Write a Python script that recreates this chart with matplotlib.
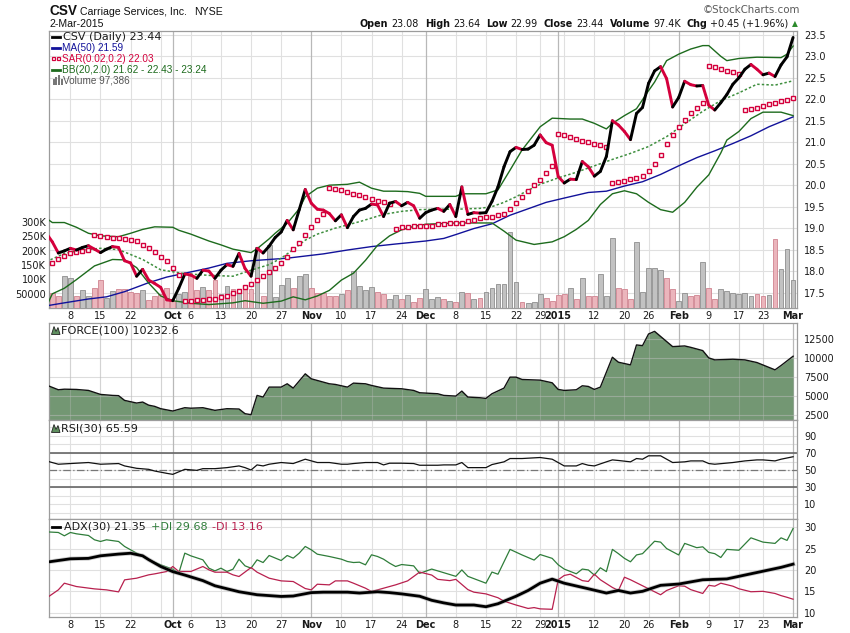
import numpy as np
import pandas as pd
import matplotlib
matplotlib.use("Agg")
import matplotlib.pyplot as plt
from matplotlib.collections import LineCollection
from matplotlib.lines import Line2D
from matplotlib.patches import Rectangle, Polygon

# ---------------------------------------------------------------- data
holidays = ["2014-11-27", "2014-12-25", "2015-01-01", "2015-01-19", "2015-02-16"]
trading_days = pd.bdate_range("2014-09-02", "2015-03-02")
trading_days = trading_days[~trading_days.isin(pd.to_datetime(holidays))]
day = np.arange(len(trading_days))

close = [18.88, 18.68, 18.42, 18.47, 18.53, 18.49, 18.55, 18.59, 18.51, 18.43,
         18.51, 18.57, 18.55, 18.24, 18.19, 17.88, 18.04, 17.79, 17.71, 17.62,
         17.33, 17.31, 17.60, 17.93, 17.91, 17.83, 18.02, 18.00, 17.83, 18.02,
         18.15, 18.11, 18.41, 18.06, 17.88, 18.53, 18.42, 18.58, 18.78, 18.91,
         19.18, 18.96, 19.43, 19.90, 19.58, 19.44, 19.42, 19.34, 19.17, 19.31,
         19.01, 19.27, 19.42, 19.46, 19.56, 19.54, 19.27, 19.58, 19.62, 19.52,
         19.60, 19.52, 19.23, 19.36, 19.42, 19.46, 19.39, 19.55, 19.27, 19.96,
         19.32, 19.36, 19.35, 19.36, 19.62, 19.96, 20.43, 20.78, 20.88, 20.83,
         20.84, 20.93, 21.17, 20.99, 20.93, 20.20, 20.05, 20.14, 20.13, 20.55,
         20.43, 20.21, 20.32, 20.67, 21.50, 21.40, 21.25, 21.06, 21.67, 21.81,
         22.37, 22.66, 22.76, 22.48, 21.82, 22.04, 22.42, 22.34, 22.31, 22.32,
         21.86, 21.75, 21.92, 22.11, 22.35, 22.50, 22.70, 22.81, 22.70, 22.57,
         22.61, 22.53, 22.80, 22.99, 23.44]

sar = [np.nan, 18.18, 18.27, 18.35, 18.41, 18.45, 18.47, 18.49, 18.84, 18.82,
       18.80, 18.78, 18.77, 18.75, 18.72, 18.70, 18.61, 18.53, 18.44, 18.33,
       18.23, 18.06, 17.90, 17.30, 17.30, 17.33, 17.33, 17.34, 17.36, 17.40,
       17.43, 17.50, 17.54, 17.64, 17.71, 17.79, 17.88, 17.97, 18.06, 18.18,
       18.32, 18.51, 18.66, 18.84, 19.02, 19.20, 19.34, 19.93, 19.92, 19.88,
       19.85, 19.80, 19.77, 19.72, 19.67, 19.62, 19.60, 19.56, 18.99, 19.02,
       19.03, 19.05, 19.05, 19.06, 19.06, 19.09, 19.10, 19.11, 19.13, 19.13,
       19.17, 19.19, 19.23, 19.25, 19.27, 19.30, 19.34, 19.44, 19.58, 19.73,
       19.87, 20.00, 20.11, 20.29, 20.44, 21.19, 21.16, 21.12, 21.07, 21.03,
       21.00, 20.97, 20.93, 20.88, 20.05, 20.08, 20.10, 20.14, 20.16, 20.21,
       20.33, 20.49, 20.70, 20.96, 21.16, 21.35, 21.51, 21.67, 21.79, 21.91,
       22.77, 22.75, 22.70, 22.65, 22.63, 22.58, 21.75, 21.78, 21.80, 21.85,
       21.89, 21.91, 21.96, 21.98, 22.03]

volume = [60000, 53500, 42000, 112000, 104000, 43000, 63000, 43000, 69000, 99000,
          35000, 61000, 66000, 66000, 55000, 51000, 63000, 28000, 42000, 49000,
          69000, 26000, 49000, 55000, 112000, 63000, 72000, 63000, 99000, 49000,
          77000, 65000, 68000, 69000, 68000, 212000, 42000, 220000, 38000, 80000,
          104000, 69000, 112000, 118000, 69000, 51000, 51000, 42000, 43000, 49000,
          63000, 130000, 77000, 63000, 72000, 55000, 49000, 31000, 46000, 30000,
          46000, 20000, 35000, 65000, 30000, 37000, 30000, 26000, 22000, 57000,
          51000, 30000, 34000, 57000, 69000, 83000, 83000, 267000, 90000, 22000,
          19000, 22000, 48000, 34000, 26000, 44000, 48000, 69000, 30000, 104000,
          42000, 42000, 118000, 42000, 244000, 69000, 65000, 30000, 230000, 57000,
          139000, 139000, 133000, 104000, 65000, 26000, 54000, 42000, 44000, 160000,
          69000, 30000, 65000, 60000, 51000, 49000, 54000, 42000, 48000, 42000,
          44000, 240000, 135000, 205000, 97386]

ma_day = [0, 3, 7, 10, 13, 17, 20, 23, 27, 30, 34, 40, 46, 50, 54, 58, 63, 66, 68, 71,
          74, 77, 80, 83, 86, 90, 93, 96, 99, 102, 105, 108, 111, 114, 117, 120, 124]
ma50 = [17.19, 17.26, 17.35, 17.40, 17.52, 17.73, 17.86, 17.95, 18.07, 18.18,
        18.24, 18.30, 18.40, 18.49, 18.57, 18.63, 18.70, 18.76, 18.85, 18.99,
        19.10, 19.30, 19.45, 19.60, 19.70, 19.83, 19.86, 19.98, 20.08, 20.25,
        20.45, 20.64, 20.80, 20.97, 21.15, 21.36, 21.59]

bb_up_day = [0, 1, 3, 5, 7, 9, 12, 14, 16, 18, 21, 22, 24, 27, 29, 31, 34, 35, 37, 38,
             40, 42, 43, 45, 47, 50, 52, 54, 56, 58, 60, 62, 63, 68, 69, 73, 75, 77, 79, 82,
             84, 87, 89, 91, 93, 94, 96, 98, 100, 101, 103, 105, 107, 109, 110, 112, 113,
             115, 118, 122, 123, 124]
bb_up = [19.23, 19.13, 19.13, 19.02, 18.88, 18.82, 18.80, 18.88, 18.97, 19.03,
         19.02, 18.95, 18.86, 18.70, 18.61, 18.51, 18.43, 18.52, 18.75, 18.88,
         19.11, 19.45, 19.73, 19.93, 20.00, 20.02, 20.07, 19.93, 19.86, 19.86,
         19.85, 19.81, 19.74, 19.74, 19.80, 19.80, 19.89, 20.35, 20.82, 21.36,
         21.56, 21.54, 21.54, 21.44, 21.31, 21.44, 21.62, 21.78, 22.20, 22.40,
         22.90, 23.05, 23.17, 23.25, 23.25, 23.00, 22.90, 22.95, 22.98, 22.97,
         23.05, 23.24]

bb_mid_day = [0, 3, 6, 9, 12, 16, 19, 23, 27, 31, 34, 37, 39, 41, 43, 45, 48, 52, 56, 59,
              62, 65, 68, 72, 74, 76, 78, 80, 82, 85, 88, 91, 94, 97, 100, 103, 106, 109,
              112, 115, 118, 121, 124]
bb_mid = [18.22, 18.41, 18.49, 18.53, 18.50, 18.27, 18.03, 17.94, 17.90, 17.88,
          18.02, 18.15, 18.30, 18.50, 18.72, 18.86, 19.00, 19.15, 19.32, 19.39,
          19.43, 19.44, 19.44, 19.46, 19.50, 19.60, 19.73, 19.88, 20.02, 20.17,
          20.30, 20.45, 20.60, 20.74, 20.90, 21.13, 21.43, 21.72, 21.97, 22.15,
          22.35, 22.33, 22.43]

bb_lo_day = [0, 1, 3, 5, 8, 11, 13, 15, 17, 19, 21, 24, 27, 31, 33, 36, 39, 41, 43, 45,
             47, 49, 51, 53, 55, 57, 59, 61, 63, 68, 74, 76, 78, 81, 84, 86, 88, 90, 92, 94,
             96, 98, 100, 102, 104, 106, 108, 110, 112, 113, 115, 117, 119, 122, 124]
bb_lo = [17.17, 17.47, 17.60, 17.80, 18.12, 18.27, 18.26, 18.08, 17.72, 17.42,
         17.31, 17.25, 17.22, 17.26, 17.31, 17.25, 17.30, 17.40, 17.33, 17.42,
         17.55, 17.79, 17.95, 18.25, 18.60, 18.82, 18.96, 19.04, 19.09, 19.12,
         19.12, 18.93, 18.72, 18.62, 18.68, 18.80, 18.97, 19.18, 19.55, 19.80,
         19.87, 19.80, 19.60, 19.43, 19.37, 19.60, 19.95, 20.24, 20.75, 21.05,
         21.25, 21.55, 21.70, 21.70, 21.62]

force_day = [0, 2, 3, 5, 6, 7, 9, 11, 12, 13, 15, 16, 17, 18, 19, 21, 23, 24, 26, 28,
             30, 32, 33, 34, 35, 36, 37, 39, 40, 41, 43, 44, 45, 47, 48, 50, 51, 53, 54, 56,
             59, 61, 62, 65, 66, 68, 69, 70, 72, 73, 74, 76, 77, 78, 79, 82, 84, 85, 86, 88,
             89, 90, 91, 92, 94, 95, 97, 98, 99, 100, 101, 104, 106, 107, 109, 110, 111, 114,
             116, 118, 121, 122, 124]
force = [6450, 5824, 5900, 5867, 5800, 5736, 5213, 5082, 5050, 4427,
         4078, 4209, 3800, 3641, 3336, 3030, 3467, 3400, 3467, 3118,
         3336, 3292, 2681, 2550, 5082, 4864, 6173, 6173, 6610, 6042,
         7918, 7264, 7046, 6610, 6523, 6173, 6697, 6610, 6392, 6042,
         5955, 5736, 5431, 5300, 5082, 4995, 5649, 4864, 4776, 4689,
         5300, 6042, 7482, 7482, 7177, 7089, 6740, 5867, 5736, 5824,
         6348, 6261, 5867, 6173, 10100, 9445, 9096, 11714, 11627, 13154,
         13503, 11496, 11583, 11400, 10972, 10012, 9751, 9838, 9751, 9402,
         8442, 9009, 10233]

rsi_day = [0, 2, 4, 7, 9, 12, 13, 15, 17, 18, 20, 21, 23, 25, 26, 28, 30, 32, 33, 34,
           35, 36, 37, 39, 41, 43, 45, 47, 49, 50, 51, 53, 55, 56, 57, 59, 61, 62, 65, 66,
           68, 69, 70, 72, 73, 74, 76, 77, 79, 81, 82, 84, 86, 88, 89, 90, 91, 93, 94, 95,
           97, 98, 99, 100, 102, 104, 106, 107, 109, 110, 111, 114, 116, 118, 119, 121, 122, 124]
rsi = [60.7, 56.8, 57.6, 58.8, 56.8, 57.6, 54.8, 52.0, 50.8, 48.8,
       46.1, 44.9, 50.8, 49.6, 51.6, 51.6, 52.8, 54.8, 52.8, 50.0,
       56.0, 54.8, 56.8, 58.8, 57.6, 62.7, 58.8, 58.8, 56.8, 56.8,
       57.6, 58.8, 58.8, 56.0, 58.0, 58.0, 57.6, 55.6, 55.6, 56.0,
       56.0, 58.8, 52.8, 52.8, 52.8, 56.4, 59.6, 63.5, 63.5, 64.3,
       64.7, 62.7, 54.8, 54.8, 57.6, 55.6, 54.8, 59.6, 61.9, 61.2,
       59.6, 63.5, 62.7, 66.7, 66.7, 58.8, 59.6, 60.7, 60.7, 57.6,
       56.8, 58.8, 60.7, 61.9, 61.9, 60.7, 62.7, 65.6]

adx_day = [0, 4, 7, 9, 12, 14, 16, 17, 19, 21, 23, 26, 28, 30, 32, 35, 37, 39, 41, 44,
           46, 50, 52, 55, 57, 59, 62, 64, 66, 68, 71, 73, 75, 78, 80, 82, 84, 86, 90, 93,
           95, 97, 99, 102, 105, 109, 113, 116, 120, 122, 124]
adx = [21.8, 22.6, 22.7, 23.3, 23.7, 23.9, 23.3, 22.4, 20.8, 19.6,
       18.8, 17.5, 16.3, 15.6, 14.9, 14.2, 14.0, 13.8, 13.9, 14.7,
       14.8, 14.8, 14.6, 14.9, 14.7, 14.4, 13.85, 12.9, 12.3, 11.8,
       11.8, 11.4, 12.1, 13.85, 15.2, 16.9, 17.85, 16.9, 15.6, 14.6,
       15.2, 14.6, 15.0, 16.4, 16.7, 17.7, 17.9, 18.8, 20.0, 20.6,
       21.35]

pdi_day = [0, 2, 3, 4, 5, 7, 8, 9, 10, 12, 13, 14, 16, 17, 19, 21, 22, 23, 24, 26,
           27, 28, 29, 30, 31, 32, 33, 34, 35, 36, 37, 39, 40, 41, 42, 43, 44, 45, 47, 49,
           50, 51, 52, 53, 54, 55, 56, 57, 58, 59, 61, 62, 64, 68, 69, 70, 73, 74, 75, 77,
           79, 81, 82, 84, 85, 86, 88, 89, 90, 91, 92, 93, 94, 95, 96, 97, 98, 99, 101, 102,
           103, 105, 106, 108, 109, 110, 111, 112, 113, 115, 117, 119, 121, 122, 123, 124]
plus_di = [28.9, 28.75, 27.97, 28.75, 28.44, 28.05, 27.04, 26.65, 27.04, 26.65,
           25.48, 24.7, 23.14, 22.36, 21.19, 20.17, 19.24, 23.92, 23.29, 22.36,
           20.41, 19.78, 20.41, 19.63, 20.17, 22.51, 20.95, 20.41, 22.36, 21.73,
           23.37, 22.2, 23.37, 22.75, 23.92, 25.48, 24.7, 23.68, 23.14, 22.51,
           21.97, 21.73, 21.81, 21.19, 23.53, 23.14, 22.51, 21.58, 20.8, 21.26,
           20.95, 19.2, 20.2, 18.5, 20.0, 18.5, 16.9, 19.5, 19.0, 24.8,
           23.5, 22.3, 23.6, 22.7, 21.2, 20.2, 19.1, 20.2, 20.0, 18.8,
           20.5, 19.6, 24.8, 23.8, 22.7, 21.9, 23.5, 23.8, 26.7, 26.5,
           25.0, 23.5, 26.2, 25.2, 25.4, 24.1, 23.8, 22.9, 24.8, 24.6,
           27.5, 26.5, 26.2, 27.5, 26.9, 29.68]

mdi_day = [0, 2, 3, 5, 8, 10, 12, 13, 15, 17, 18, 20, 21, 22, 24, 26, 27, 28, 30, 31,
           32, 34, 35, 37, 39, 41, 43, 44, 45, 47, 48, 50, 51, 53, 54, 57, 58, 60, 62, 64,
           65, 67, 68, 70, 71, 73, 75, 76, 78, 80, 81, 82, 84, 85, 86, 87, 89, 90, 91, 92,
           94, 95, 96, 97, 99, 101, 102, 103, 105, 106, 107, 109, 110, 111, 112, 114, 115,
           117, 119, 121, 122, 123, 124]
minus_di = [13.39, 15.34, 16.9, 16.12, 15.57, 15.34, 14.87, 17.68, 18.07, 18.85,
            19.08, 19.63, 20.8, 19.63, 19.63, 20.8, 20.02, 19.47, 19.47, 18.85,
            18.46, 20.56, 19.47, 18.07, 17.44, 17.29, 15.65, 15.34, 16.66, 16.51,
            17.44, 17.44, 16.9, 15.73, 14.95, 16.12, 16.51, 17.44, 19.5, 18.8,
            17.8, 17.5, 17.8, 15.4, 14.8, 14.4, 13.5, 12.7, 11.8, 11.0,
            11.2, 10.9, 10.8, 17.7, 18.7, 19.0, 17.5, 17.3, 19.0, 17.7,
            15.9, 15.2, 18.3, 17.7, 16.3, 14.9, 14.2, 15.2, 16.3, 16.2,
            15.4, 14.5, 16.4, 16.2, 16.9, 16.2, 15.6, 14.9, 15.0, 14.5,
            14.0, 13.6, 13.16]

price_ticks = [17.5, 18.0, 18.5, 19.0, 19.5, 20.0, 20.5, 21.0, 21.5, 22.0, 22.5, 23.0, 23.5]
vol_ticks = [50000, 100000, 150000, 200000, 250000, 300000]
vol_tick_labels = ["50000", "100K", "150K", "200K", "250K", "300K"]
force_ticks = [2500, 5000, 7500, 10000, 12500]
rsi_ticks = [10, 30, 50, 70, 90]
adx_ticks = [10, 15, 20, 25, 30]

xtick_dates = ["2014-09-08", "2014-09-15", "2014-09-22", "2014-10-01", "2014-10-06",
               "2014-10-13", "2014-10-20", "2014-10-27", "2014-11-03", "2014-11-10",
               "2014-11-17", "2014-11-24", "2014-12-01", "2014-12-08", "2014-12-15",
               "2014-12-22", "2014-12-29", "2015-01-02", "2015-01-12", "2015-01-20",
               "2015-01-26", "2015-02-02", "2015-02-09", "2015-02-17", "2015-02-23",
               "2015-03-02"]
xtick_labels = ["8", "15", "22", "Oct", "6", "13", "20", "27", "Nov", "10", "17", "24",
                "Dec", "8", "15", "22", "29", "2015", "12", "20", "26", "Feb", "9", "17",
                "23", "Mar"]
month_labels = {"Oct", "Nov", "Dec", "2015", "Feb", "Mar"}
week_grid = ["2014-09-08", "2014-09-15", "2014-09-22", "2014-09-29", "2014-10-06",
             "2014-10-13", "2014-10-20", "2014-10-27", "2014-11-10", "2014-11-17",
             "2014-11-24", "2014-12-08", "2014-12-15", "2014-12-22", "2014-12-29",
             "2015-01-05", "2015-01-12", "2015-01-20", "2015-01-26", "2015-02-09",
             "2015-02-17", "2015-02-23"]
month_grid = ["2014-10-01", "2014-11-03", "2014-12-01", "2015-01-02", "2015-02-02",
              "2015-03-02"]

# ---------------------------------------------------------------- style
W, H = 850, 633
XL = (0.45, 124.65)
GRID = "#e0e0e0"
MGRID = "#b8b8b8"
SPINE = "#9c9c9c"
TXT = "#1a1a1a"
FS = 7.0
RED = "#d4003c"
LEG = "Liberation Sans"


def loc(d):
    return trading_days.get_loc(pd.Timestamp(d))


def prect(top, bottom):
    return [49 / W, 1 - bottom / H, 748 / W, (bottom - top) / H]


def frame(ax):
    ax.set_xlim(*XL)
    for sp in ax.spines.values():
        sp.set_color(SPINE)
        sp.set_linewidth(0.9)
    for d in week_grid:
        ax.axvline(loc(d), color=GRID, lw=0.8, zorder=0.3)
    for d in month_grid:
        ax.axvline(loc(d), color=MGRID, lw=0.9, zorder=0.35)


def right_ticks(ax, ticks, labels=None):
    ax.yaxis.tick_right()
    ax.set_yticks(ticks)
    if labels is not None:
        ax.set_yticklabels(labels)
    ax.tick_params(axis="y", length=0, pad=5, labelsize=FS, labelcolor=TXT)


def date_ticks(ax, show):
    ax.set_xticks([loc(d) for d in xtick_dates])
    if show:
        ax.set_xticklabels(xtick_labels)
        for t in ax.get_xticklabels():
            if t.get_text() in month_labels:
                t.set_fontweight("bold")
    else:
        ax.set_xticklabels([])
    ax.tick_params(axis="x", length=0, pad=2.5, labelsize=FS, labelcolor=TXT)


fig = plt.figure(figsize=(W / 100, H / 100), dpi=100)
fig.patch.set_facecolor("white")

# ---------------------------------------------------------------- main panel
P_LIM = (17.14, 23.59)
V_TOP = 968000
ax_g = fig.add_axes(prect(31, 308))
ax_v = ax_g.twinx()
ax_p = ax_g.twinx()
frame(ax_g)
ax_g.set_ylim(*P_LIM)
for v in price_ticks:
    ax_g.axhline(v, color=GRID, lw=0.8, zorder=0.3)
ax_g.tick_params(axis="y", left=False, right=False, labelleft=False, labelright=False)
date_ticks(ax_g, True)

for a in (ax_v, ax_p):
    for sp in a.spines.values():
        sp.set_visible(False)

ax_v.set_ylim(0, V_TOP)
up_day = np.r_[True, np.diff(close) >= 0]
face = np.where(up_day, "#c2c2c2", "#ebb5bc")
edge = np.where(up_day, "#8e8e8e", "#cf8390")
ax_v.bar(day, volume, width=0.8, color=face, edgecolor=edge, linewidth=0.6, zorder=2)
ax_v.yaxis.tick_left()
ax_v.set_yticks(vol_ticks)
ax_v.set_yticklabels(vol_tick_labels)
ax_v.tick_params(axis="y", length=0, pad=2, labelsize=FS, labelcolor=TXT)

ax_p.set_ylim(*P_LIM)
right_ticks(ax_p, price_ticks, [f"{v:.1f}" for v in price_ticks])
ax_p.plot(ma_day, ma50, color="#12129a", lw=1.0, zorder=3)
ax_p.plot(bb_up_day, bb_up, color="#1d6b1d", lw=1.0, zorder=3)
ax_p.plot(bb_lo_day, bb_lo, color="#1d6b1d", lw=1.0, zorder=3)
ax_p.plot(bb_mid_day, bb_mid, color="#3f8f3f", lw=1.1, ls=(0, (1.6, 1.4)), zorder=3)
ax_p.plot(day, sar, ls="none", marker="s", ms=3.0, mfc="white", mec=RED, mew=1.0, zorder=4)
pts = np.column_stack([day, close])
segs = np.stack([pts[:-1], pts[1:]], axis=1)
seg_col = np.where(np.diff(close) < 0, RED, "#000000")
lc = LineCollection(segs, colors=seg_col, linewidths=2.1, zorder=5)
lc.set_capstyle("round")
lc.set_joinstyle("round")
ax_p.add_collection(lc)

# ---------------------------------------------------------------- force panel
ax_f = fig.add_axes(prect(323, 420))
frame(ax_f)
F_LIM = (1850, 14600)
ax_f.set_ylim(*F_LIM)
ax_f.fill_between(force_day, force, F_LIM[0], color="#739773", lw=0, zorder=1)
ax_f.plot(force_day, force, color="#111111", lw=1.0, zorder=4)
for v in force_ticks:
    ax_f.axhline(v, color="#bdbdbd", lw=0.8, alpha=0.5, zorder=2)
for d in week_grid:
    ax_f.axvline(loc(d), color="#bdbdbd", lw=0.8, alpha=0.35, zorder=2)
right_ticks(ax_f, force_ticks)
date_ticks(ax_f, False)

# ---------------------------------------------------------------- RSI panel
ax_r = fig.add_axes(prect(420, 519))
frame(ax_r)
ax_r.set_ylim(-7.6, 108.8)
for v in range(0, 101, 10):
    ax_r.axhline(v, color=GRID, lw=0.8, zorder=0.3)
ax_r.axhline(70, color="#666666", lw=1.2, zorder=1)
ax_r.axhline(30, color="#666666", lw=1.2, zorder=1)
ax_r.axhline(50, color="#777777", lw=0.9, ls=(0, (6, 2, 1, 2)), zorder=1)
ax_r.plot(rsi_day, rsi, color="#111111", lw=0.9, zorder=3)
right_ticks(ax_r, rsi_ticks)
date_ticks(ax_r, False)

# ---------------------------------------------------------------- ADX panel
ax_a = fig.add_axes(prect(519, 617))
frame(ax_a)
ax_a.set_ylim(9.0, 31.9)
for v in adx_ticks:
    ax_a.axhline(v, color=GRID, lw=0.8, zorder=0.3)
ax_a.plot(pdi_day, plus_di, color="#2f7d3a", lw=0.9, zorder=3)
ax_a.plot(mdi_day, minus_di, color="#b8204e", lw=0.9, zorder=3)
ax_a.plot(adx_day, adx, color="#9a9a9a", lw=3.2, alpha=0.5, zorder=3.5)
ax_a.plot(adx_day, adx, color="#000000", lw=2.0, zorder=4)
right_ticks(ax_a, adx_ticks)
date_ticks(ax_a, True)

# ---------------------------------------------------------------- text
def ftxt(x, y, s, **kw):
    kw.setdefault("va", "center")
    kw.setdefault("fontsize", FS)
    kw.setdefault("color", TXT)
    return fig.text(x / W, 1 - y / H, s, **kw)


def fline(x0, x1, y, color, lw=2.0):
    fig.add_artist(Line2D([x0 / W, x1 / W], [1 - y / H, 1 - y / H],
                          transform=fig.transFigure, color=color, lw=lw))


fig.canvas.draw()
rend = fig.canvas.get_renderer()


def chain(x0, y, parts, **common):
    x = x0
    for s, kw in parts:
        if s is None:
            x += kw
            continue
        k = dict(common)
        k.update(kw)
        t = ftxt(x, y, s, **k)
        x += t.get_window_extent(renderer=rend).width
    return x


# header
ftxt(49.5, 14.8, "CSV", va="baseline", fontsize=9.8, fontweight="bold",
     family="Liberation Sans", color="#111111")
ftxt(80, 14.8, "Carriage Services, Inc.", va="baseline", fontsize=7.6,
     family="Liberation Sans", color="#111111")
ftxt(194, 14.8, "NYSE", va="baseline", fontsize=7.6, family="Liberation Sans",
     color="#111111")
ftxt(49, 26.8, "2-Mar-2015", va="baseline", fontsize=7.6, family="Liberation Sans",
     color="#111111")
ftxt(800, 10, "\u00a9StockCharts.com", ha="right", fontsize=7.4, color="#5a5a5a")

B = {"fontweight": "bold"}
N = {}
hdr = [("Open", B), (None, 3), ("23.08", N), (None, 6),
       ("High", B), (None, 3), ("23.64", N), (None, 6),
       ("Low", B), (None, 3), ("22.99", N), (None, 6),
       ("Close", B), (None, 3), ("23.44", N), (None, 6),
       ("Volume", B), (None, 3), ("97.4K", N), (None, 6),
       ("Chg", B), (None, 3), ("+0.45 (+1.96%)", N)]
xe = chain(360, 26.8, hdr, va="baseline", fontsize=6.9, color="#111111")
ftxt(xe + 3, 26.0, "\u25b2", va="baseline", fontsize=5.5, color="#2b8a2b")

# main legend
fline(52, 60, 36.5, "#000000")
ftxt(63, 36.5, "CSV (Daily) 23.44", fontsize=8.0)
fline(52, 60, 47.7, "#12129a")
ftxt(62, 47.7, "MA(50) 21.59", fontsize=7.2, family=LEG, color="#12129a")
for xx in (53.5, 58.3):
    fig.add_artist(Rectangle(((xx - 1.3) / W, 1 - (58.7 + 1.3) / H), 2.6 / W, 2.6 / H,
                             transform=fig.transFigure, fc="white", ec=RED, lw=0.9))
ftxt(62, 58.7, "SAR(0.02,0.2) 22.03", fontsize=7.2, family=LEG, color=RED)
fline(52, 60, 70, "#1d6b1d")
ftxt(62, 70, "BB(20,2.0) 21.62 - 22.43 - 23.24", fontsize=7.2, family=LEG, color="#1d6b1d")
for xx, hh in ((52.5, 5), (55.2, 7), (57.9, 9), (60.6, 6)):
    fig.add_artist(Rectangle((xx / W, 1 - 84.5 / H), 2.0 / W, hh / H,
                             transform=fig.transFigure, fc="#777777", ec="none"))
ftxt(63, 80.3, "Volume 97,386", fontsize=7.2, family=LEG, color="#555555")


def mountain(x0, yc):
    pts_ = [(x0, yc + 4), (x0 + 2.5, yc - 4), (x0 + 4.5, yc + 1), (x0 + 6.5, yc - 3),
            (x0 + 8.5, yc + 4)]
    fig.add_artist(Polygon([(p / W, 1 - q / H) for p, q in pts_], closed=True,
                           transform=fig.transFigure, fc="#5f8f5f", ec="#222222", lw=0.6))


mountain(51.5, 330.5)
ftxt(61, 330.5, "FORCE(100) 10232.6", fontsize=8.1)
mountain(51.5, 428.5)
ftxt(61, 428.5, "RSI(30) 65.59", fontsize=8.1)

fline(52, 60, 526.5, "#000000")
chain(64, 526.5, [("ADX(30) 21.35", {"color": TXT}), (None, 5),
                  ("+DI 29.68", {"color": "#2f7d3a"}), (None, 5),
                  ("-DI 13.16", {"color": "#b8204e"})], fontsize=8.0)

fig.savefig("out.png", dpi=100, facecolor="white")
